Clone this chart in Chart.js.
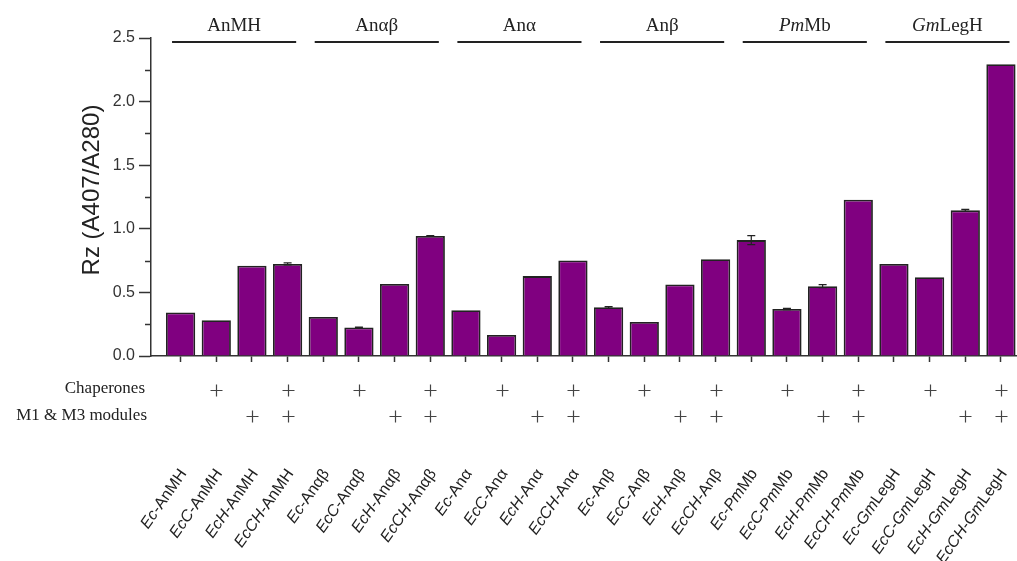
<!DOCTYPE html>
<html>
<head>
<meta charset="utf-8">
<script src="https://cdn.jsdelivr.net/npm/chart.js@4.4.1/dist/chart.umd.min.js"></script>
<style>
  html, body { margin: 0; padding: 0; background: #fff; }
  #wrap { width: 1017px; height: 561px; position: relative; }
</style>
</head>
<body>
<div id="wrap"><canvas id="c" width="1017" height="561"></canvas></div>
<script>
// Strains / constructs, in plotting order
const categories = [
  'Ec-AnMH', 'EcC-AnMH', 'EcH-AnMH', 'EcCH-AnMH',
  'Ec-Anαβ', 'EcC-Anαβ', 'EcH-Anαβ', 'EcCH-Anαβ',
  'Ec-Anα', 'EcC-Anα', 'EcH-Anα', 'EcCH-Anα',
  'Ec-Anβ', 'EcC-Anβ', 'EcH-Anβ', 'EcCH-Anβ',
  'Ec-PmMb', 'EcC-PmMb', 'EcH-PmMb', 'EcCH-PmMb',
  'Ec-GmLegH', 'EcC-GmLegH', 'EcH-GmLegH', 'EcCH-GmLegH'
];
// Rz = A407/A280 and its standard deviation
const rzValues = [
  0.342, 0.281, 0.709, 0.724,
  0.307, 0.224, 0.567, 0.943,
  0.360, 0.166, 0.628, 0.751,
  0.383, 0.268, 0.562, 0.761,
  0.911, 0.370, 0.549, 1.228,
  0.724, 0.620, 1.145, 2.294
];
const rzErrors = [
  0, 0, 0, 0.008,
  0, 0.003, 0, 0.003,
  0, 0, 0, 0,
  0.006, 0, 0, 0,
  0.035, 0.005, 0.012, 0,
  0, 0, 0.007, 0
];
// Protein groups (4 strains each)
const groupNames = ['AnMH', 'Anαβ', 'Anα', 'Anβ', 'PmMb', 'GmLegH'];
// Co-expression flags per strain
const chaperones = [0,1,0,1, 0,1,0,1, 0,1,0,1, 0,1,0,1, 0,1,0,1, 0,1,0,1];
const modules    = [0,0,1,1, 0,0,1,1, 0,0,1,1, 0,0,1,1, 0,0,1,1, 0,0,1,1];
// Y axis ticks
const yTicks = [0, 0.5, 1.0, 1.5, 2.0, 2.5];
const yMinorTicks = [0.25, 0.75, 1.25, 1.75, 2.25];

const SANS = '"Liberation Sans", Arial, sans-serif';
const SERIF = '"Liberation Serif", "Times New Roman", serif';
const INK = '#222';
const AXIS = '#333';

// Split a name into runs; species prefixes are set in italics
function nameRuns(name) {
  const italicHeads = ['Pm', 'Gm'];
  const dash = name.indexOf('-');
  let runs = [];
  let rest = name;
  if (dash > 0) {
    runs.push({ t: name.slice(0, dash), i: true });
    runs.push({ t: '-', i: false });
    rest = name.slice(dash + 1);
  }
  const head = rest.slice(0, 2);
  if (italicHeads.includes(head)) {
    runs.push({ t: head, i: true });
    runs.push({ t: rest.slice(2), i: false });
  } else {
    runs.push({ t: rest, i: false });
  }
  return runs;
}

function drawRuns(ctx, runs, x, y, size, family, align) {
  const fontFor = it => (it ? 'italic ' : '') + size + 'px ' + family;
  let total = 0;
  runs.forEach(r => { ctx.font = fontFor(r.i); total += ctx.measureText(r.t).width; });
  let cx = align === 'right' ? x - total : align === 'center' ? x - total / 2 : x;
  ctx.textAlign = 'left';
  runs.forEach(r => {
    ctx.font = fontFor(r.i);
    ctx.fillText(r.t, cx, y);
    cx += ctx.measureText(r.t).width;
  });
}

const decorations = {
  id: 'decorations',
  afterDatasetsDraw(chart) {
    const ctx = chart.ctx;
    const x = chart.scales.x, y = chart.scales.y;
    // error bars
    ctx.save();
    ctx.strokeStyle = INK;
    ctx.lineWidth = 1.2;
    rzValues.forEach((v, i) => {
      const e = rzErrors[i];
      if (!e) return;
      const px = x.getPixelForValue(i);
      const top = y.getPixelForValue(v + e), bot = y.getPixelForValue(v - e);
      ctx.beginPath();
      ctx.moveTo(px, top); ctx.lineTo(px, bot);
      ctx.moveTo(px - 4, top); ctx.lineTo(px + 4, top);
      ctx.moveTo(px - 4, bot); ctx.lineTo(px + 4, bot);
      ctx.stroke();
    });
    ctx.restore();
  },
  afterDraw(chart) {
    const ctx = chart.ctx;
    const x = chart.scales.x, y = chart.scales.y;
    const area = chart.chartArea;
    ctx.save();

    // minor y ticks
    ctx.strokeStyle = AXIS;
    ctx.lineWidth = 1.5;
    yMinorTicks.forEach(v => {
      const py = Math.round(y.getPixelForValue(v)) + 0.5;
      ctx.beginPath();
      ctx.moveTo(area.left - 6, py); ctx.lineTo(area.left, py);
      ctx.stroke();
    });

    // y axis title
    ctx.save();
    ctx.translate(92, 190);
    ctx.rotate(-Math.PI / 2);
    ctx.fillStyle = INK;
    ctx.font = '24px ' + SANS;
    ctx.textAlign = 'center';
    ctx.textBaseline = 'middle';
    ctx.fillText('Rz (A407/A280)', 0, 0);
    ctx.restore();

    // group headers with rules
    ctx.fillStyle = INK;
    ctx.strokeStyle = INK;
    ctx.lineWidth = 2;
    ctx.textBaseline = 'alphabetic';
    groupNames.forEach((g, k) => {
      const first = k * 4, last = k * 4 + 3;
      const x0 = x.getPixelForValue(first - 0.24), x1 = x.getPixelForValue(last + 0.24);
      ctx.beginPath();
      ctx.moveTo(x0, 42); ctx.lineTo(x1, 42);
      ctx.stroke();
      drawRuns(ctx, nameRuns(g), (x.getPixelForValue(first) + x.getPixelForValue(last)) / 2, 31, 19, SERIF, 'center');
    });

    // condition rows
    ctx.textBaseline = 'middle';
    ctx.font = '17px ' + SERIF;
    ctx.textAlign = 'right';
    ctx.fillText('Chaperones', 145, 389);
    ctx.fillText('M1 & M3 modules', 147, 416);
    ctx.strokeStyle = '#444';
    ctx.lineWidth = 1.2;
    const plus = (px, py) => {
      ctx.beginPath();
      ctx.moveTo(px - 6, py); ctx.lineTo(px + 6, py);
      ctx.moveTo(px, py - 6); ctx.lineTo(px, py + 6);
      ctx.stroke();
    };
    categories.forEach((c, i) => {
      const px = Math.round(x.getPixelForValue(i)) + 0.5;
      if (chaperones[i]) plus(px, 390.5);
      if (modules[i]) plus(px, 416.5);
    });

    // rotated strain names
    ctx.fillStyle = INK;
    categories.forEach((c, i) => {
      const px = x.getPixelForValue(i);
      ctx.save();
      ctx.translate(px + 3, 471);
      ctx.rotate(-55 * Math.PI / 180);
      ctx.textBaseline = 'middle';
      drawRuns(ctx, nameRuns(c), 0, 0, 16, SANS, 'right');
      ctx.restore();
    });

    ctx.restore();
  }
};

new Chart(document.getElementById('c'), {
  type: 'bar',
  data: {
    datasets: [{
      data: rzValues.map((v, i) => ({ x: i, y: v })),
      backgroundColor: '#800080',
      borderColor: '#222',
      borderWidth: 1.8,
      borderSkipped: 'bottom',
      categoryPercentage: 1,
      barPercentage: 0.82
    }]
  },
  options: {
    responsive: false,
    animation: false,
    devicePixelRatio: 1,
    layout: { padding: { top: 38, right: 0, bottom: 0, left: 0 } },
    plugins: { legend: { display: false }, tooltip: { enabled: false }, title: { display: false } },
    scales: {
      x: {
        type: 'linear',
        min: -0.83,
        max: 23.45,
        offset: false,
        afterBuildTicks: s => { s.ticks = categories.map((_, i) => ({ value: i })); },
        ticks: { display: false },
        grid: { offset: false, drawOnChartArea: false, drawTicks: true, tickLength: 6, color: AXIS, tickColor: AXIS, tickWidth: 1.5 },
        border: { display: true, color: AXIS, width: 1.5 },
        afterFit: s => { s.height = 205; s.paddingLeft = 0; s.paddingRight = 0; }
      },
      y: {
        min: 0,
        max: 2.5,
        afterBuildTicks: s => { s.ticks = yTicks.map(v => ({ value: v })); },
        ticks: {
          color: AXIS,
          font: { family: SANS, size: 16 },
          padding: 4,
          callback: v => Number(v).toFixed(1)
        },
        grid: { drawOnChartArea: false, tickLength: 12, tickColor: AXIS, tickWidth: 1.5 },
        border: { display: true, color: AXIS, width: 1.5 },
        afterFit: s => { s.width = 151; s.paddingTop = 0; s.paddingBottom = 0; }
      }
    }
  },
  plugins: [decorations]
});
</script>
</body>
</html>
